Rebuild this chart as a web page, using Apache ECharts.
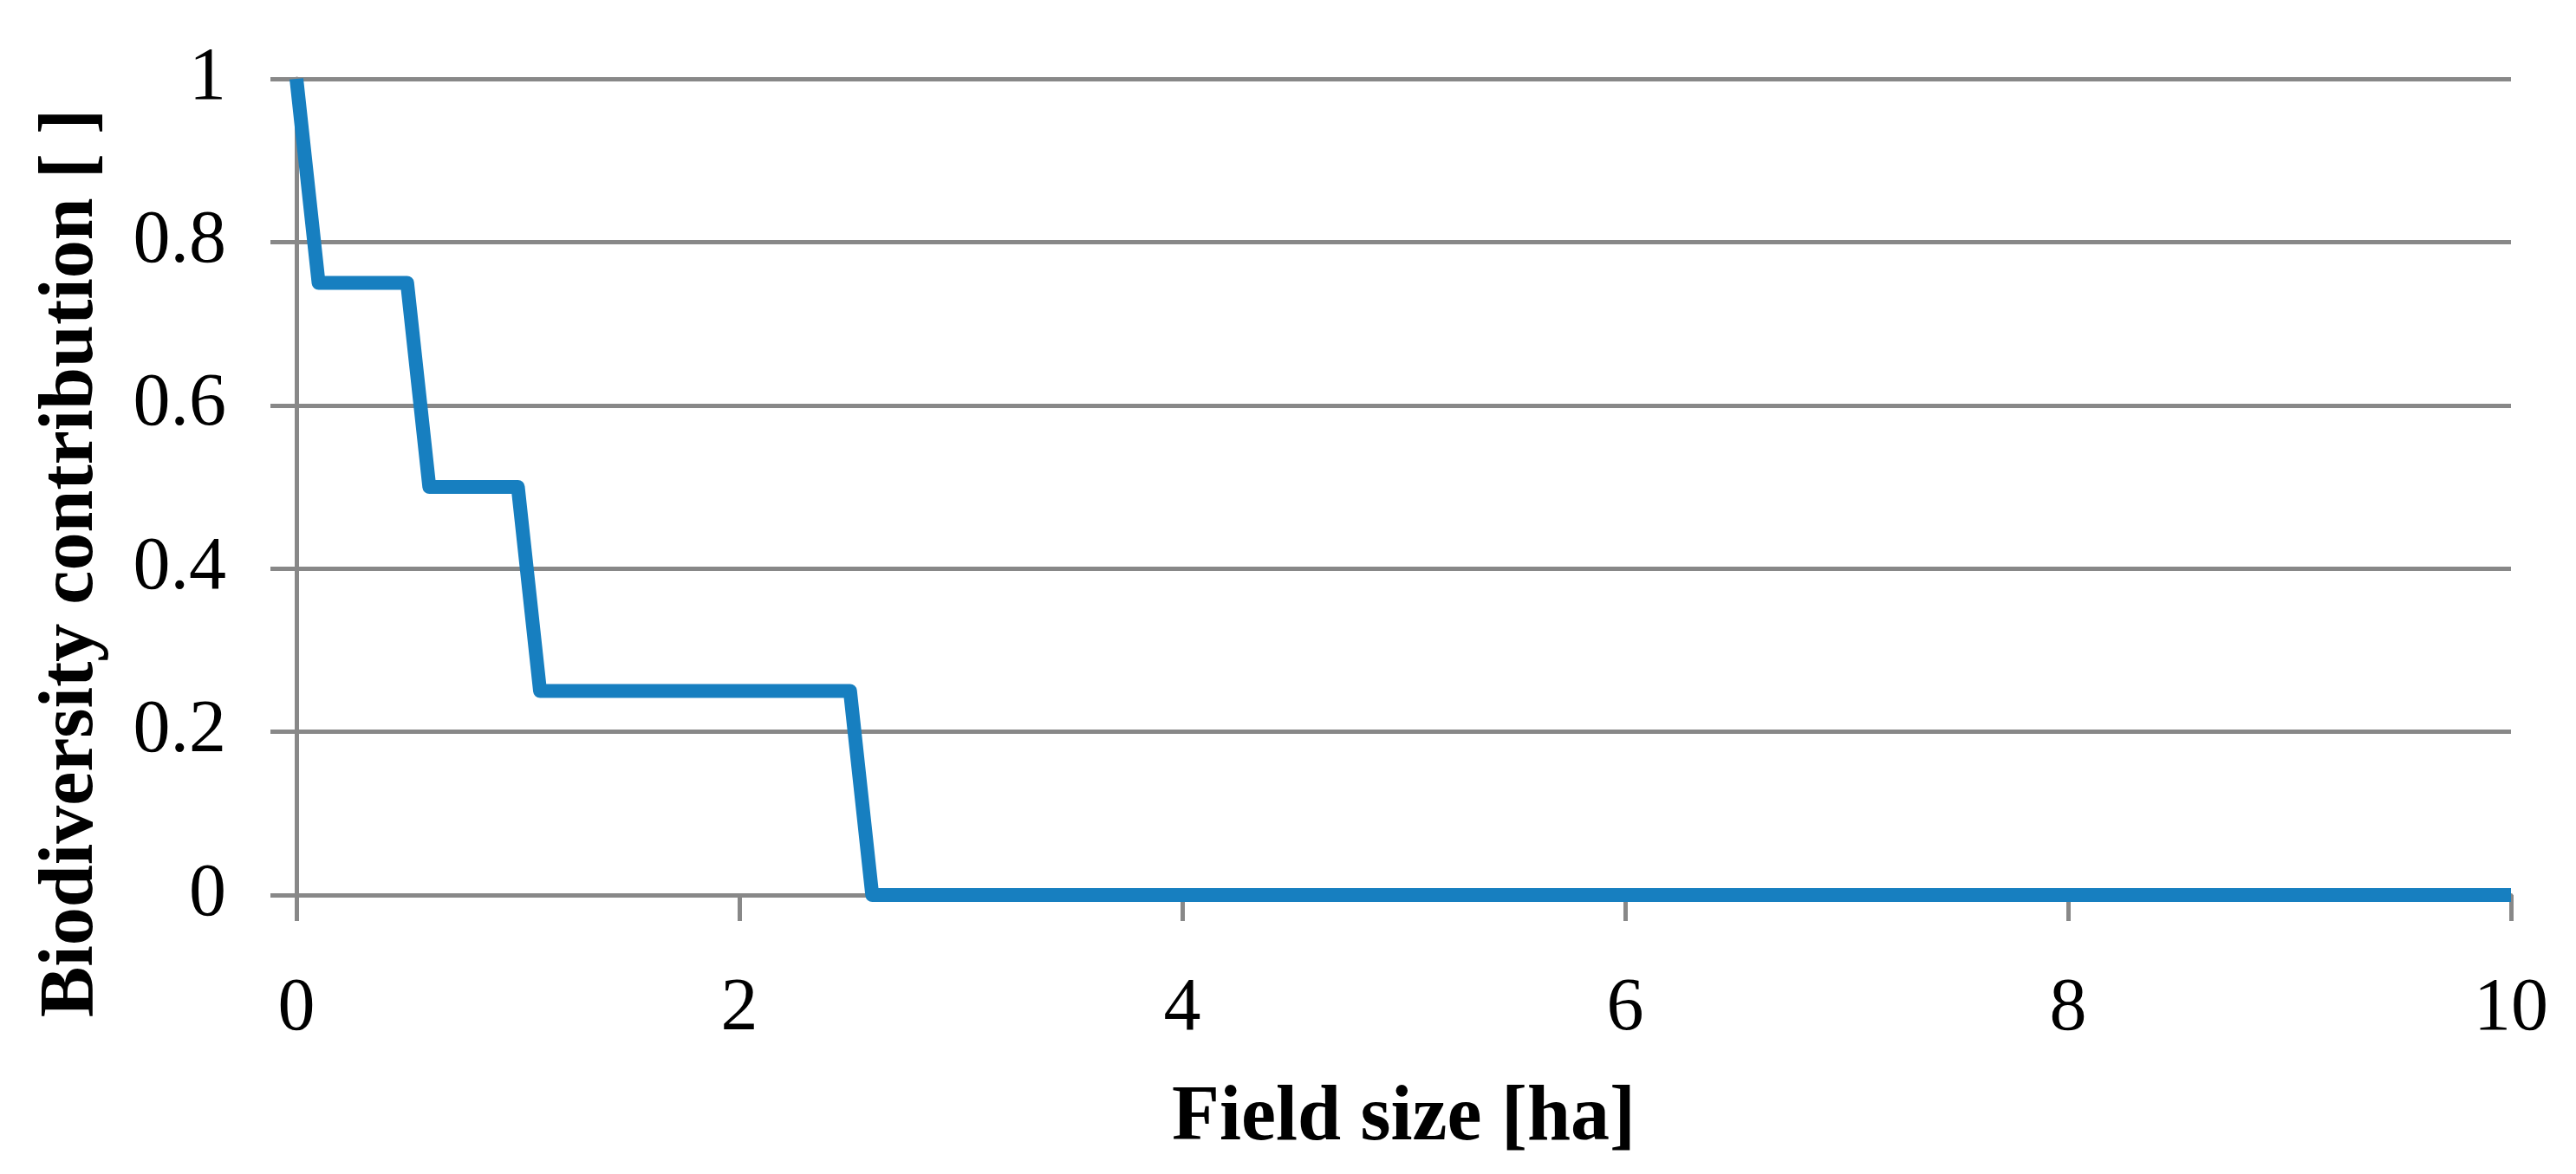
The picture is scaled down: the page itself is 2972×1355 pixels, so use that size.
<!DOCTYPE html>
<html>
<head>
<meta charset="utf-8">
<script src="https://cdn.jsdelivr.net/npm/echarts@6/dist/echarts.min.js"></script>
<style>
  html, body { margin: 0; padding: 0; background: #fff; }
  #main { width: 2972px; height: 1355px; }
</style>
</head>
<body>
<div id="main"></div>
<script>
// field size [ha] and biodiversity contribution
const fieldSize = [0, 0.1, 0.5, 0.6, 1.0, 1.1, 2.5, 2.6, 10]
const contribution = [1, 0.75, 0.75, 0.5, 0.5, 0.25, 0.25, 0, 0]
const xTicks = [0, 2, 4, 6, 8, 10]
const yTicks = [0, 0.2, 0.4, 0.6, 0.8, 1]

const chart = echarts.init(document.getElementById('main'))
const gray = '#888888'
const serif = '"Liberation Serif", "Times New Roman", serif'

const option = {
  animation: false,
  backgroundColor: '#ffffff',
  grid: { left: 342, right: 75, top: 91, bottom: 322, containLabel: false },
  xAxis: {
    type: 'value',
    min: xTicks[0],
    max: xTicks[xTicks.length - 1],
    interval: 2,
    name: 'Field size [ha]',
    nameLocation: 'middle',
    nameGap: 214,
    nameTextStyle: { fontFamily: serif, fontWeight: 'bold', fontSize: 90, color: '#000' },
    axisLine: { show: true, lineStyle: { color: gray, width: 5 } },
    axisTick: { show: true, length: 30, lineStyle: { color: gray, width: 5 } },
    axisLabel: { margin: 89, fontFamily: serif, fontSize: 86, color: '#000' },
    splitLine: { show: false }
  },
  yAxis: {
    type: 'value',
    min: yTicks[0],
    max: yTicks[yTicks.length - 1],
    interval: 0.2,
    name: 'Biodiversity contribution [ ]',
    nameLocation: 'middle',
    nameGap: 215,
    nameTextStyle: { fontFamily: serif, fontWeight: 'bold', fontSize: 88, color: '#000', padding: [0, 176, 0, 0] },
    axisLine: { show: true, lineStyle: { color: gray, width: 5 } },
    axisTick: { show: true, length: 30, lineStyle: { color: gray, width: 5 } },
    axisLabel: { margin: 81, fontFamily: serif, fontSize: 86, color: '#000' },
    splitLine: { show: true, lineStyle: { color: gray, width: 5 } }
  },
  series: [{
    type: 'line',
    data: fieldSize.map((x, i) => [x, contribution[i]]),
    showSymbol: false,
    symbol: 'none',
    clip: true,
    lineStyle: { color: '#177fc0', width: 16, join: 'round', cap: 'butt' },
    z: 3
  }]
}

chart.setOption(option)
</script>
</body>
</html>
